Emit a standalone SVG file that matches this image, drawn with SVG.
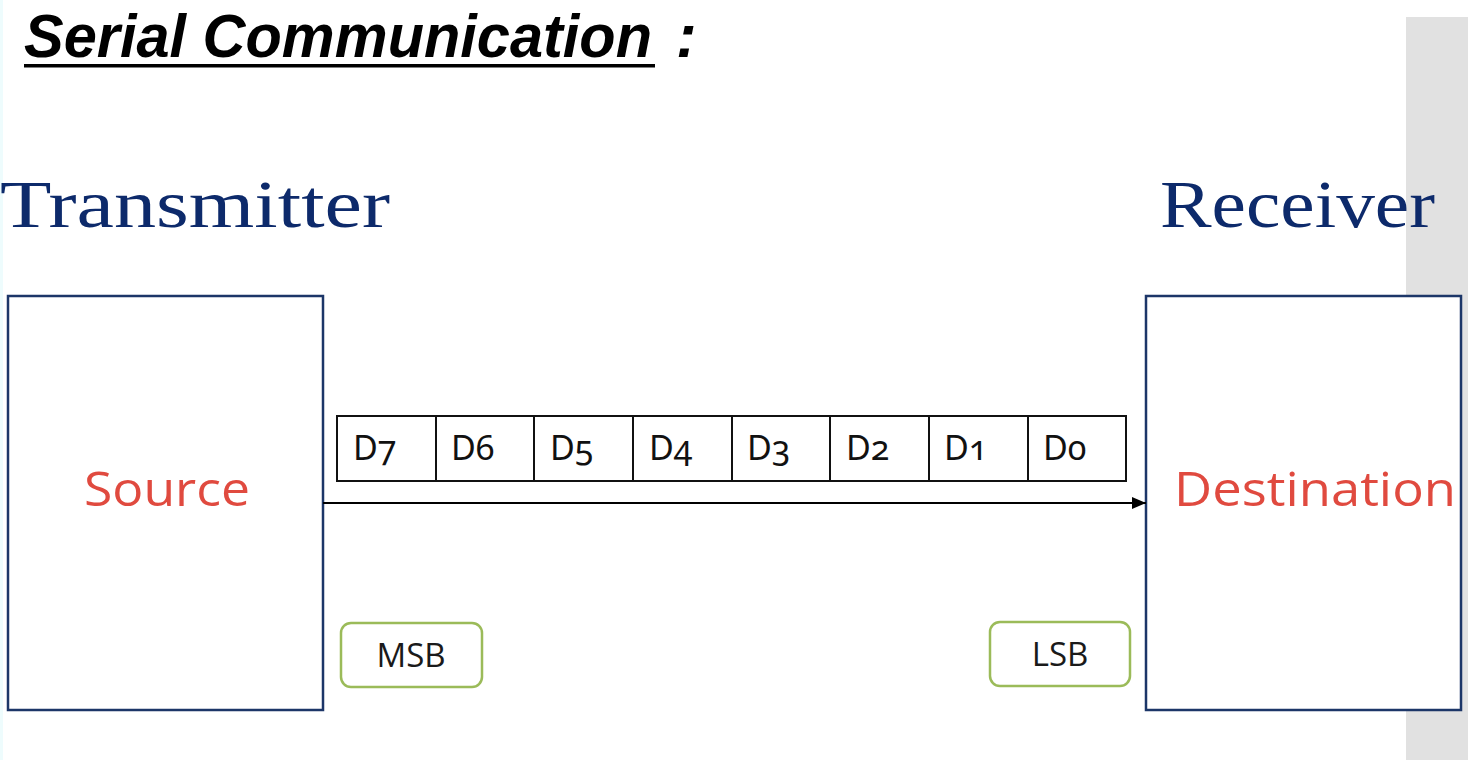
<svg xmlns="http://www.w3.org/2000/svg" width="1468" height="760" viewBox="0 0 1468 760">
  <style>
    .title { font-family: "Liberation Sans", "Open Sans", sans-serif; font-weight: 700; font-style: italic; font-size: 62px; fill: #000; }
    .role { font-family: "Liberation Serif", "DejaVu Serif", serif; font-size: 68px; fill: #0d2a6b; }
    .box { fill: #fff; stroke: #1c3668; stroke-width: 2.5; }
    .name { font-family: "Open Sans", "Liberation Sans", sans-serif; font-size: 47px; fill: #e04a3f; }
    .cell { fill: #fff; stroke: #111; stroke-width: 2; }
    .bit { font-family: "Noto Sans", "Open Sans", sans-serif; font-size: 34px; fill: #111; font-feature-settings: "onum"; font-variant-numeric: oldstyle-nums; }
    .tag { fill: #fff; stroke: #9bbb59; stroke-width: 2.5; }
    .tagt { font-family: "Open Sans", "Liberation Sans", sans-serif; font-size: 33px; fill: #1a1a1a; text-anchor: middle; }
  </style>
  <defs>
    <marker id="arrow" markerWidth="14" markerHeight="12" refX="14" refY="6" orient="auto" markerUnits="userSpaceOnUse">
      <path d="M0,0 L14,6 L0,12 z" fill="#000"/>
    </marker>
  </defs>
  <rect width="1468" height="760" fill="#fff"/>
  <rect x="0" y="0" width="3" height="760" fill="#eefcfd"/>
  <rect x="1406" y="17" width="62" height="743" fill="#e1e1e1"/>

  <g id="title">
    <text class="title" x="24" y="57" textLength="628" lengthAdjust="spacingAndGlyphs">Serial Communication</text>
    <rect x="24" y="64" width="631" height="3.5" fill="#000"/>
    <text class="title" x="676" y="57">:</text>
  </g>

  <g id="transmitter">
    <text class="role" x="0" y="227" textLength="390" lengthAdjust="spacingAndGlyphs">Transmitter</text>
  </g>
  <g id="receiver">
    <text class="role" x="1160" y="227" textLength="275" lengthAdjust="spacingAndGlyphs">Receiver</text>
  </g>

  <g id="source">
    <rect class="box" x="8" y="296" width="315" height="414"/>
    <text class="name" x="84" y="506" textLength="166" lengthAdjust="spacingAndGlyphs">Source</text>
  </g>
  <g id="destination">
    <rect class="box" x="1146" y="296" width="315" height="414"/>
    <text class="name" x="1174" y="506" textLength="282" lengthAdjust="spacingAndGlyphs">Destination</text>
  </g>

  <g id="data-frame">
    <rect class="cell" x="337" y="416" width="99" height="65"/>
    <rect class="cell" x="436" y="416" width="98" height="65"/>
    <rect class="cell" x="534" y="416" width="99" height="65"/>
    <rect class="cell" x="633" y="416" width="99" height="65"/>
    <rect class="cell" x="732" y="416" width="98" height="65"/>
    <rect class="cell" x="830" y="416" width="99" height="65"/>
    <rect class="cell" x="929" y="416" width="99" height="65"/>
    <rect class="cell" x="1028" y="416" width="98" height="65"/>
    <text class="bit" x="353" y="460">D7</text>
    <text class="bit" x="451" y="460">D6</text>
    <text class="bit" x="550" y="460">D5</text>
    <text class="bit" x="649" y="460">D4</text>
    <text class="bit" x="747" y="460">D3</text>
    <text class="bit" x="846" y="460">D2</text>
    <text class="bit" x="944" y="460">D1</text>
    <text class="bit" x="1043" y="460">D0</text>
  </g>

  <g id="msb">
    <rect class="tag" x="341" y="623" width="141" height="64" rx="10"/>
    <text class="tagt" x="411" y="667">MSB</text>
  </g>
  <g id="lsb">
    <rect class="tag" x="990" y="622" width="140" height="64" rx="10"/>
    <text class="tagt" x="1060" y="666">LSB</text>
  </g>

  <g id="connectors">
    <line x1="323" y1="503" x2="1146" y2="503" stroke="#000" stroke-width="2" marker-end="url(#arrow)"/>
  </g>
</svg>
